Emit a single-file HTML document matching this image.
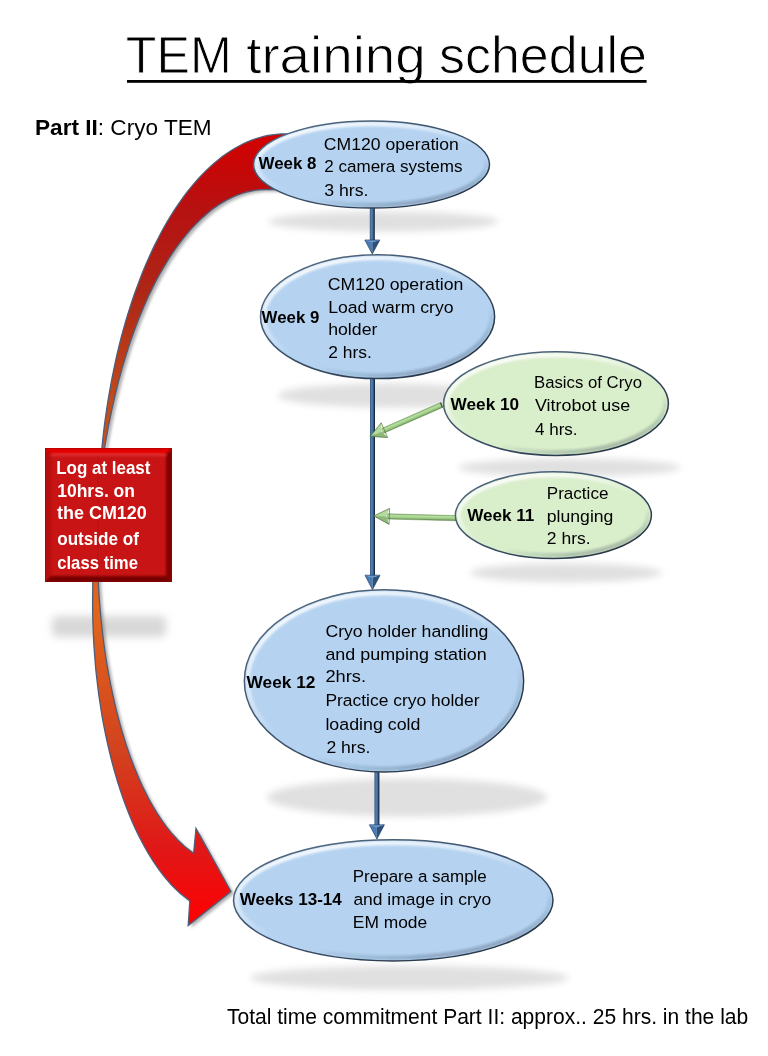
<!DOCTYPE html>
<html><head><meta charset="utf-8"><title>TEM training schedule</title>
<style>html,body{margin:0;padding:0;background:#fff;width:768px;height:1056px;overflow:hidden}
text{font-family:"Liberation Sans",sans-serif}</style></head>
<body>
<svg width="768" height="1056" viewBox="0 0 768 1056" style="display:block">
<defs>
<filter id="sh" x="-30%" y="-200%" width="160%" height="500%"><feGaussianBlur stdDeviation="3.8"/></filter>
<filter id="sh2" x="-30%" y="-100%" width="160%" height="300%"><feGaussianBlur stdDeviation="4.2"/></filter>
<filter id="b1" x="-10%" y="-10%" width="120%" height="120%"><feGaussianBlur stdDeviation="0.9"/></filter>
<filter id="b12" x="-10%" y="-10%" width="120%" height="120%"><feGaussianBlur stdDeviation="1.3"/></filter>
<filter id="ash" x="-20%" y="-5%" width="140%" height="110%"><feGaussianBlur stdDeviation="1.8"/></filter>
<filter id="csh" x="-50%" y="-20%" width="200%" height="140%"><feDropShadow dx="1" dy="1" stdDeviation="1" flood-color="#000" flood-opacity="0.25"/></filter>
<linearGradient id="bevT" x1="0.1" y1="0.05" x2="0.75" y2="1">
 <stop offset="0" stop-color="#fff" stop-opacity="0.95"/>
 <stop offset="0.3" stop-color="#fff" stop-opacity="0.55"/>
 <stop offset="0.55" stop-color="#fff" stop-opacity="0"/>
 <stop offset="0.7" stop-color="#1a2a40" stop-opacity="0.0"/>
 <stop offset="1" stop-color="#1a2a40" stop-opacity="0.3"/>
</linearGradient>
<linearGradient id="olg" x1="0" y1="0" x2="1" y2="1">
 <stop offset="0" stop-color="#587088"/>
 <stop offset="0.5" stop-color="#3a4e66"/>
 <stop offset="1" stop-color="#202c3a"/>
</linearGradient>
<linearGradient id="arr" gradientUnits="userSpaceOnUse" x1="0" y1="134" x2="0" y2="926">
 <stop offset="0" stop-color="#d40000"/>
 <stop offset="0.05" stop-color="#c40808"/>
 <stop offset="0.1" stop-color="#b51212"/>
 <stop offset="0.2" stop-color="#ae2616"/>
 <stop offset="0.34" stop-color="#c24c1a"/>
 <stop offset="0.6" stop-color="#e2661c"/>
 <stop offset="0.78" stop-color="#d2421e"/>
 <stop offset="0.9" stop-color="#e01818"/>
 <stop offset="1" stop-color="#ff0000"/>
</linearGradient>
<linearGradient id="bl" x1="0" y1="0" x2="1" y2="0">
 <stop offset="0" stop-color="#3a5880"/><stop offset="0.35" stop-color="#5882ab"/><stop offset="0.65" stop-color="#3c6690"/><stop offset="0.85" stop-color="#1a3250"/><stop offset="1" stop-color="#0e1e32"/>
</linearGradient>
<linearGradient id="ga1" gradientUnits="userSpaceOnUse" x1="411.9" y1="415.2" x2="414.0" y2="420.0"><stop offset="0" stop-color="#8fbf78"/><stop offset="0.3" stop-color="#b8e0a2"/><stop offset="0.7" stop-color="#98c682"/><stop offset="1" stop-color="#5f8a4c"/></linearGradient><linearGradient id="ga2" gradientUnits="userSpaceOnUse" x1="422.9" y1="514.7" x2="422.8" y2="519.9"><stop offset="0" stop-color="#8fbf78"/><stop offset="0.3" stop-color="#b8e0a2"/><stop offset="0.7" stop-color="#98c682"/><stop offset="1" stop-color="#5f8a4c"/></linearGradient>
<linearGradient id="blh" x1="0" y1="0" x2="1" y2="0">
 <stop offset="0" stop-color="#3f6ea5"/><stop offset="0.5" stop-color="#5a8cc6"/><stop offset="1" stop-color="#2f5584"/>
</linearGradient>
<linearGradient id="rbv" x1="0" y1="0" x2="0" y2="1">
 <stop offset="0" stop-color="#e40000"/><stop offset="1" stop-color="#d80808"/>
</linearGradient>
</defs>
<rect width="768" height="1056" fill="#fff"/>
<g font-family="Liberation Sans, sans-serif">
<!-- shadows -->
<ellipse cx="383.5" cy="221.5" rx="115" ry="10" fill="#e0e0e0" opacity="1.0" filter="url(#sh)"/><ellipse cx="389.6" cy="395.5" rx="112" ry="12" fill="#e0e0e0" opacity="1.0" filter="url(#sh)"/><ellipse cx="569.4" cy="467.5" rx="111" ry="9" fill="#e0e0e0" opacity="1.0" filter="url(#sh)"/><ellipse cx="566" cy="572.8" rx="96" ry="9.5" fill="#e0e0e0" opacity="1.0" filter="url(#sh)"/><ellipse cx="407" cy="797.5" rx="140" ry="19" fill="#e0e0e0" opacity="1.0" filter="url(#sh)"/><ellipse cx="409.5" cy="977.8" rx="159" ry="12" fill="#e0e0e0" opacity="1.0" filter="url(#sh)"/>
<rect x="52" y="616" width="114" height="21" rx="5" fill="#d8d8d8" filter="url(#sh2)"/>
<!-- curved arrow -->
<path d="M300,133.9 L284.9,133.9 L280.6,134.0 L276.4,134.3 L272.2,134.8 L267.9,135.5 L263.7,136.4 L259.5,137.6 L255.3,138.9 L251.1,140.4 L246.9,142.1 L242.7,144.0 L238.6,146.2 L234.5,148.5 L230.4,151.0 L226.4,153.7 L222.3,156.6 L218.4,159.7 L214.4,163.0 L210.5,166.4 L206.6,170.1 L202.8,173.9 L199.0,178.0 L195.2,182.2 L191.5,186.6 L187.8,191.1 L184.2,195.9 L180.7,200.8 L177.2,205.8 L173.7,211.1 L170.3,216.5 L167.0,222.1 L163.7,227.8 L160.5,233.7 L157.4,239.7 L154.3,245.9 L151.3,252.2 L148.4,258.7 L145.5,265.3 L142.7,272.0 L140.0,278.9 L137.4,285.9 L134.8,293.0 L132.3,300.3 L129.9,307.7 L127.5,315.1 L125.3,322.7 L123.1,330.4 L121.0,338.2 L119.0,346.1 L117.1,354.1 L115.3,362.2 L113.6,370.4 L111.9,378.6 L110.4,386.9 L108.9,395.3 L107.5,403.8 L106.2,412.3 L105.0,420.9 L103.9,429.6 L102.9,438.3 L102.0,447.0 C99.5,490.0 92.8,540.0 92.8,583.0 L92.8,583.0 L92.7,590.9 L92.6,598.9 L92.6,606.8 L92.7,614.8 L92.9,622.7 L93.2,630.7 L93.6,638.6 L94.0,646.6 L94.6,654.5 L95.2,662.5 L95.9,670.4 L96.8,678.4 L97.7,686.3 L98.7,694.3 L99.9,702.2 L101.1,710.2 L102.4,718.1 L103.9,726.1 L105.5,734.0 L107.2,742.0 L109.0,749.9 L110.9,757.8 L113.0,765.8 L115.2,773.7 L117.6,781.7 L120.1,789.6 L122.8,797.6 L125.7,805.5 L128.8,813.5 L132.1,821.4 L135.7,829.4 L139.5,837.3 L143.7,845.3 L148.2,853.2 L153.2,861.2 L158.6,869.1 L164.7,877.1 L171.6,885.0 L179.8,893.0 L189.8,900.9 L188.2,925.5 L231,891.5 L196,828.5 L193.6,853.2 L193.6,853.2 L184.7,846.4 L177.6,839.7 L171.4,832.9 L166.0,826.2 L161.2,819.4 L156.8,812.7 L152.7,805.9 L149.0,799.2 L145.5,792.4 L142.2,785.7 L139.2,778.9 L136.3,772.1 L133.6,765.4 L131.0,758.6 L128.6,751.9 L126.3,745.1 L124.2,738.4 L122.1,731.6 L120.2,724.9 L118.4,718.1 L116.6,711.3 L115.0,704.6 L113.5,697.8 L112.0,691.1 L110.6,684.3 L109.3,677.6 L108.1,670.8 L106.9,664.1 L105.8,657.3 L104.8,650.5 L103.9,643.8 L103.0,637.0 L102.2,630.3 L101.5,623.5 L100.8,616.8 L100.2,610.0 L99.6,603.3 L99.1,596.5 L98.7,589.8 L98.3,583.0 C98.3,540.0 102.8,490.0 104.8,447.0 L104.8,447.0 L106.1,439.5 L107.4,432.1 L108.7,424.8 L110.2,417.5 L111.7,410.3 L113.3,403.1 L114.9,396.1 L116.6,389.1 L118.3,382.2 L120.2,375.3 L122.0,368.6 L124.0,361.9 L126.0,355.4 L128.0,348.9 L130.1,342.5 L132.3,336.3 L134.5,330.1 L136.8,324.0 L139.1,318.1 L141.5,312.2 L143.9,306.5 L146.4,300.8 L148.9,295.3 L151.5,289.9 L154.1,284.7 L156.8,279.5 L159.5,274.5 L162.3,269.6 L165.1,264.8 L167.9,260.2 L170.8,255.7 L173.7,251.3 L176.7,247.1 L179.7,243.0 L182.7,239.1 L185.8,235.3 L188.9,231.6 L192.0,228.1 L195.2,224.7 L198.4,221.5 L201.6,218.4 L204.9,215.5 L208.1,212.7 L211.4,210.1 L214.7,207.6 L218.1,205.3 L221.4,203.1 L224.8,201.1 L228.2,199.3 L231.6,197.6 L235.1,196.0 L238.5,194.7 L241.9,193.5 L245.4,192.4 L248.9,191.5 L252.4,190.8 L255.8,190.2 L259.3,189.8 L262.8,189.6 L266.3,189.5 L300,189.5 Z" fill="#707070" opacity="0.55" transform="translate(3,2.2)" filter="url(#ash)"/>
<path d="M300,133.9 L284.9,133.9 L280.6,134.0 L276.4,134.3 L272.2,134.8 L267.9,135.5 L263.7,136.4 L259.5,137.6 L255.3,138.9 L251.1,140.4 L246.9,142.1 L242.7,144.0 L238.6,146.2 L234.5,148.5 L230.4,151.0 L226.4,153.7 L222.3,156.6 L218.4,159.7 L214.4,163.0 L210.5,166.4 L206.6,170.1 L202.8,173.9 L199.0,178.0 L195.2,182.2 L191.5,186.6 L187.8,191.1 L184.2,195.9 L180.7,200.8 L177.2,205.8 L173.7,211.1 L170.3,216.5 L167.0,222.1 L163.7,227.8 L160.5,233.7 L157.4,239.7 L154.3,245.9 L151.3,252.2 L148.4,258.7 L145.5,265.3 L142.7,272.0 L140.0,278.9 L137.4,285.9 L134.8,293.0 L132.3,300.3 L129.9,307.7 L127.5,315.1 L125.3,322.7 L123.1,330.4 L121.0,338.2 L119.0,346.1 L117.1,354.1 L115.3,362.2 L113.6,370.4 L111.9,378.6 L110.4,386.9 L108.9,395.3 L107.5,403.8 L106.2,412.3 L105.0,420.9 L103.9,429.6 L102.9,438.3 L102.0,447.0 C99.5,490.0 92.8,540.0 92.8,583.0 L92.8,583.0 L92.7,590.9 L92.6,598.9 L92.6,606.8 L92.7,614.8 L92.9,622.7 L93.2,630.7 L93.6,638.6 L94.0,646.6 L94.6,654.5 L95.2,662.5 L95.9,670.4 L96.8,678.4 L97.7,686.3 L98.7,694.3 L99.9,702.2 L101.1,710.2 L102.4,718.1 L103.9,726.1 L105.5,734.0 L107.2,742.0 L109.0,749.9 L110.9,757.8 L113.0,765.8 L115.2,773.7 L117.6,781.7 L120.1,789.6 L122.8,797.6 L125.7,805.5 L128.8,813.5 L132.1,821.4 L135.7,829.4 L139.5,837.3 L143.7,845.3 L148.2,853.2 L153.2,861.2 L158.6,869.1 L164.7,877.1 L171.6,885.0 L179.8,893.0 L189.8,900.9 L188.2,925.5 L231,891.5 L196,828.5 L193.6,853.2 L193.6,853.2 L184.7,846.4 L177.6,839.7 L171.4,832.9 L166.0,826.2 L161.2,819.4 L156.8,812.7 L152.7,805.9 L149.0,799.2 L145.5,792.4 L142.2,785.7 L139.2,778.9 L136.3,772.1 L133.6,765.4 L131.0,758.6 L128.6,751.9 L126.3,745.1 L124.2,738.4 L122.1,731.6 L120.2,724.9 L118.4,718.1 L116.6,711.3 L115.0,704.6 L113.5,697.8 L112.0,691.1 L110.6,684.3 L109.3,677.6 L108.1,670.8 L106.9,664.1 L105.8,657.3 L104.8,650.5 L103.9,643.8 L103.0,637.0 L102.2,630.3 L101.5,623.5 L100.8,616.8 L100.2,610.0 L99.6,603.3 L99.1,596.5 L98.7,589.8 L98.3,583.0 C98.3,540.0 102.8,490.0 104.8,447.0 L104.8,447.0 L106.1,439.5 L107.4,432.1 L108.7,424.8 L110.2,417.5 L111.7,410.3 L113.3,403.1 L114.9,396.1 L116.6,389.1 L118.3,382.2 L120.2,375.3 L122.0,368.6 L124.0,361.9 L126.0,355.4 L128.0,348.9 L130.1,342.5 L132.3,336.3 L134.5,330.1 L136.8,324.0 L139.1,318.1 L141.5,312.2 L143.9,306.5 L146.4,300.8 L148.9,295.3 L151.5,289.9 L154.1,284.7 L156.8,279.5 L159.5,274.5 L162.3,269.6 L165.1,264.8 L167.9,260.2 L170.8,255.7 L173.7,251.3 L176.7,247.1 L179.7,243.0 L182.7,239.1 L185.8,235.3 L188.9,231.6 L192.0,228.1 L195.2,224.7 L198.4,221.5 L201.6,218.4 L204.9,215.5 L208.1,212.7 L211.4,210.1 L214.7,207.6 L218.1,205.3 L221.4,203.1 L224.8,201.1 L228.2,199.3 L231.6,197.6 L235.1,196.0 L238.5,194.7 L241.9,193.5 L245.4,192.4 L248.9,191.5 L252.4,190.8 L255.8,190.2 L259.3,189.8 L262.8,189.6 L266.3,189.5 L300,189.5 Z" fill="url(#arr)" stroke="#4f5d7a" stroke-width="1.3" stroke-linejoin="miter"/>
<!-- connectors -->
<g><rect x="369.8" y="208" width="5" height="33" fill="url(#bl)"/>
<path d="M364.8,240 L372.3,242 L372.3,254 Z" fill="#4a7cb4"/>
<path d="M379.8,240 L372.3,242 L372.3,254 Z" fill="#2c5078"/>
<path d="M364.8,240 L379.8,240 L372.3,242.5 Z" fill="#6a9ad0"/>
<path d="M364.8,240 L379.8,240 L372.3,254 Z" fill="none" stroke="#22406a" stroke-width="0.7" stroke-linejoin="round"/></g>
<g><rect x="370.0" y="378" width="5" height="198.20000000000005" fill="url(#bl)"/>
<path d="M365.0,575.2 L372.5,577.2 L372.5,589.7 Z" fill="#4a7cb4"/>
<path d="M380.0,575.2 L372.5,577.2 L372.5,589.7 Z" fill="#2c5078"/>
<path d="M365.0,575.2 L380.0,575.2 L372.5,577.7 Z" fill="#6a9ad0"/>
<path d="M365.0,575.2 L380.0,575.2 L372.5,589.7 Z" fill="none" stroke="#22406a" stroke-width="0.7" stroke-linejoin="round"/></g>
<g><rect x="374.4" y="771" width="5" height="54.799999999999955" fill="url(#bl)"/>
<path d="M369.4,824.8 L376.9,826.8 L376.9,839 Z" fill="#4a7cb4"/>
<path d="M384.4,824.8 L376.9,826.8 L376.9,839 Z" fill="#2c5078"/>
<path d="M369.4,824.8 L384.4,824.8 L376.9,827.3 Z" fill="#6a9ad0"/>
<path d="M369.4,824.8 L384.4,824.8 L376.9,839 Z" fill="none" stroke="#22406a" stroke-width="0.7" stroke-linejoin="round"/></g>
<g><path d="M440.5,402.6 L381.5,428.6 L383.6,433.3 L442.5,407.4 Z" fill="url(#ga1)" stroke="#6a9258" stroke-width="0.5"/>
<path d="M381.2,422.8 L370.2,436.4 L381.6,431.4 Z" fill="#b4dc9c"/><path d="M387.6,437.5 L370.2,436.4 L381.6,431.4 Z" fill="#8db878"/>
<path d="M381.2,422.8 L370.2,436.4 L387.6,437.5 Z" fill="none" stroke="#4e6e3e" stroke-width="0.7" stroke-linejoin="round"/><line x1="440.5" y1="402.6" x2="442.5" y2="407.4" stroke="#3e5a30" stroke-width="1.4"/></g>
<g><path d="M456.5,515.6 L387.4,513.8 L387.2,519.0 L456.3,520.8 Z" fill="url(#ga2)" stroke="#6a9258" stroke-width="0.5"/>
<path d="M389.5,508.4 L373.8,516.0 L386.3,516.3 Z" fill="#b4dc9c"/><path d="M389.1,524.4 L373.8,516.0 L386.3,516.3 Z" fill="#8db878"/>
<path d="M389.5,508.4 L373.8,516.0 L389.1,524.4 Z" fill="none" stroke="#4e6e3e" stroke-width="0.7" stroke-linejoin="round"/><line x1="456.5" y1="515.6" x2="456.3" y2="520.8" stroke="#3e5a30" stroke-width="1.4"/></g>
<!-- ellipses -->
<ellipse cx="371.5" cy="164.5" rx="118" ry="43.6" fill="#b5d3f1"/>
<ellipse cx="371.5" cy="164.5" rx="114.8" ry="40.4" fill="none" stroke="url(#bevT)" stroke-width="4.5" filter="url(#b1)" clip-path="url(#c371164)"/>
<clipPath id="c371164"><ellipse cx="371.5" cy="164.5" rx="118" ry="43.6"/></clipPath>
<ellipse cx="371.5" cy="164.5" rx="118" ry="43.6" fill="none" stroke="url(#olg)" stroke-width="1.5"/><ellipse cx="377.55" cy="316.7" rx="117.05" ry="61.9" fill="#b5d3f1"/>
<ellipse cx="377.55" cy="316.7" rx="113.85" ry="58.699999999999996" fill="none" stroke="url(#bevT)" stroke-width="4.5" filter="url(#b1)" clip-path="url(#c377316)"/>
<clipPath id="c377316"><ellipse cx="377.55" cy="316.7" rx="117.05" ry="61.9"/></clipPath>
<ellipse cx="377.55" cy="316.7" rx="117.05" ry="61.9" fill="none" stroke="url(#olg)" stroke-width="1.5"/><ellipse cx="556" cy="403.6" rx="112.4" ry="51.8" fill="#d9eecb"/>
<ellipse cx="556" cy="403.6" rx="109.2" ry="48.599999999999994" fill="none" stroke="url(#bevT)" stroke-width="4.5" filter="url(#b1)" clip-path="url(#c556403)"/>
<clipPath id="c556403"><ellipse cx="556" cy="403.6" rx="112.4" ry="51.8"/></clipPath>
<ellipse cx="556" cy="403.6" rx="112.4" ry="51.8" fill="none" stroke="url(#olg)" stroke-width="1.5"/><ellipse cx="553.4" cy="515.15" rx="98" ry="43.35" fill="#d9eecb"/>
<ellipse cx="553.4" cy="515.15" rx="94.8" ry="40.15" fill="none" stroke="url(#bevT)" stroke-width="4.5" filter="url(#b1)" clip-path="url(#c553515)"/>
<clipPath id="c553515"><ellipse cx="553.4" cy="515.15" rx="98" ry="43.35"/></clipPath>
<ellipse cx="553.4" cy="515.15" rx="98" ry="43.35" fill="none" stroke="url(#olg)" stroke-width="1.5"/><ellipse cx="384" cy="680.9" rx="139.65" ry="91.1" fill="#b5d3f1"/>
<ellipse cx="384" cy="680.9" rx="136.45000000000002" ry="87.89999999999999" fill="none" stroke="url(#bevT)" stroke-width="4.5" filter="url(#b1)" clip-path="url(#c384680)"/>
<clipPath id="c384680"><ellipse cx="384" cy="680.9" rx="139.65" ry="91.1"/></clipPath>
<ellipse cx="384" cy="680.9" rx="139.65" ry="91.1" fill="none" stroke="url(#olg)" stroke-width="1.5"/><ellipse cx="393.25" cy="900.35" rx="159.75" ry="60.55" fill="#b5d3f1"/>
<ellipse cx="393.25" cy="900.35" rx="156.55" ry="57.349999999999994" fill="none" stroke="url(#bevT)" stroke-width="4.5" filter="url(#b1)" clip-path="url(#c393900)"/>
<clipPath id="c393900"><ellipse cx="393.25" cy="900.35" rx="159.75" ry="60.55"/></clipPath>
<ellipse cx="393.25" cy="900.35" rx="159.75" ry="60.55" fill="none" stroke="url(#olg)" stroke-width="1.5"/>
<!-- red box -->
<clipPath id="rbc"><rect x="45" y="448" width="127" height="134"/></clipPath>
<rect x="45" y="448" width="127" height="134" fill="#c81414"/>
<g clip-path="url(#rbc)"><g filter="url(#b12)">
<path d="M40,443 L177,443 L166,454 L51,454 Z" fill="#e40202"/>
<path d="M40,443 L51,454 L51,576 L40,587 Z" fill="#b70c0c"/>
<path d="M177,443 L177,587 L166,576 L166,454 Z" fill="#840404"/>
<path d="M40,587 L177,587 L166,576 L51,576 Z" fill="#780606"/>
<line x1="51" y1="455" x2="166" y2="455" stroke="#ee4040" stroke-width="1.5" opacity="0.8"/>
</g></g>
<rect x="45.4" y="448.4" width="126.2" height="133.2" fill="none" stroke="#8a0808" stroke-width="0.8" opacity="0.6"/>
<line x1="98" y1="456" x2="98" y2="576" stroke="#a00a0a" stroke-width="1" opacity="0.35"/>
<!-- text -->
<g opacity="0.999">
<text x="323.80" y="149.60" font-size="17.4" font-weight="normal" fill="#000" textLength="135.00" lengthAdjust="spacingAndGlyphs">CM120 operation</text>
<text x="324.20" y="172.00" font-size="17.4" font-weight="normal" fill="#000" textLength="138.40" lengthAdjust="spacingAndGlyphs">2 camera systems</text>
<text x="324.20" y="195.50" font-size="17.4" font-weight="normal" fill="#000" textLength="44.20" lengthAdjust="spacingAndGlyphs">3 hrs.</text>
<text x="258.60" y="168.70" font-size="17.2" font-weight="bold" fill="#000" textLength="57.80" lengthAdjust="spacingAndGlyphs">Week 8</text>
<text x="327.80" y="289.60" font-size="17.4" font-weight="normal" fill="#000" textLength="135.60" lengthAdjust="spacingAndGlyphs">CM120 operation</text>
<text x="328.20" y="312.60" font-size="17.4" font-weight="normal" fill="#000" textLength="125.40" lengthAdjust="spacingAndGlyphs">Load warm cryo</text>
<text x="328.20" y="335.30" font-size="17.4" font-weight="normal" fill="#000" textLength="49.20" lengthAdjust="spacingAndGlyphs">holder</text>
<text x="328.20" y="358.30" font-size="17.4" font-weight="normal" fill="#000" textLength="43.60" lengthAdjust="spacingAndGlyphs">2 hrs.</text>
<text x="261.60" y="322.50" font-size="17.2" font-weight="bold" fill="#000" textLength="57.80" lengthAdjust="spacingAndGlyphs">Week 9</text>
<text x="534.00" y="388.40" font-size="17.4" font-weight="normal" fill="#000" textLength="108.00" lengthAdjust="spacingAndGlyphs">Basics of Cryo</text>
<text x="535.00" y="411.00" font-size="17.4" font-weight="normal" fill="#000" textLength="95.20" lengthAdjust="spacingAndGlyphs">Vitrobot use</text>
<text x="535.00" y="434.50" font-size="17.4" font-weight="normal" fill="#000" textLength="42.60" lengthAdjust="spacingAndGlyphs">4 hrs.</text>
<text x="450.60" y="409.70" font-size="17.2" font-weight="bold" fill="#000" textLength="68.60" lengthAdjust="spacingAndGlyphs">Week 10</text>
<text x="546.80" y="498.70" font-size="17.4" font-weight="normal" fill="#000" textLength="61.60" lengthAdjust="spacingAndGlyphs">Practice</text>
<text x="546.80" y="521.60" font-size="17.4" font-weight="normal" fill="#000" textLength="66.60" lengthAdjust="spacingAndGlyphs">plunging</text>
<text x="546.80" y="544.10" font-size="17.4" font-weight="normal" fill="#000" textLength="43.80" lengthAdjust="spacingAndGlyphs">2 hrs.</text>
<text x="467.20" y="520.50" font-size="17.2" font-weight="bold" fill="#000" textLength="67.20" lengthAdjust="spacingAndGlyphs">Week 11</text>
<text x="325.40" y="637.00" font-size="17.4" font-weight="normal" fill="#000" textLength="163.00" lengthAdjust="spacingAndGlyphs">Cryo holder handling</text>
<text x="325.40" y="659.80" font-size="17.4" font-weight="normal" fill="#000" textLength="161.40" lengthAdjust="spacingAndGlyphs">and pumping station</text>
<text x="325.40" y="682.00" font-size="17.4" font-weight="normal" fill="#000" textLength="40.60" lengthAdjust="spacingAndGlyphs">2hrs.</text>
<text x="325.40" y="706.10" font-size="17.4" font-weight="normal" fill="#000" textLength="154.20" lengthAdjust="spacingAndGlyphs">Practice cryo holder</text>
<text x="325.40" y="729.60" font-size="17.4" font-weight="normal" fill="#000" textLength="95.00" lengthAdjust="spacingAndGlyphs">loading cold</text>
<text x="326.40" y="752.60" font-size="17.4" font-weight="normal" fill="#000" textLength="44.00" lengthAdjust="spacingAndGlyphs">2 hrs.</text>
<text x="246.60" y="687.70" font-size="17.2" font-weight="bold" fill="#000" textLength="68.80" lengthAdjust="spacingAndGlyphs">Week 12</text>
<text x="352.80" y="882.20" font-size="17.4" font-weight="normal" fill="#000" textLength="134.00" lengthAdjust="spacingAndGlyphs">Prepare a sample</text>
<text x="353.40" y="905.00" font-size="17.4" font-weight="normal" fill="#000" textLength="137.80" lengthAdjust="spacingAndGlyphs">and image in cryo</text>
<text x="352.80" y="927.90" font-size="17.4" font-weight="normal" fill="#000" textLength="74.40" lengthAdjust="spacingAndGlyphs">EM mode</text>
<text x="239.80" y="905.00" font-size="17.2" font-weight="bold" fill="#000" textLength="102.00" lengthAdjust="spacingAndGlyphs">Weeks 13-14</text>
<text x="56.20" y="473.50" font-size="17.9" font-weight="bold" fill="#fff" textLength="94.20" lengthAdjust="spacingAndGlyphs">Log at least</text>
<text x="57.20" y="497.40" font-size="17.9" font-weight="bold" fill="#fff" textLength="77.80" lengthAdjust="spacingAndGlyphs">10hrs. on</text>
<text x="57.00" y="519.30" font-size="17.9" font-weight="bold" fill="#fff" textLength="89.80" lengthAdjust="spacingAndGlyphs">the CM120</text>
<text x="57.20" y="544.60" font-size="17.9" font-weight="bold" fill="#fff" textLength="81.80" lengthAdjust="spacingAndGlyphs">outside of</text>
<text x="57.20" y="568.50" font-size="17.9" font-weight="bold" fill="#fff" textLength="80.80" lengthAdjust="spacingAndGlyphs">class time</text>
<text x="125.80" y="73.30" font-size="52" font-weight="normal" fill="#000" textLength="105.90" lengthAdjust="spacingAndGlyphs" stroke="#fff" stroke-width="0.9">TEM</text>
<text x="246.20" y="73.30" font-size="52" font-weight="normal" fill="#000" textLength="179.50" lengthAdjust="spacingAndGlyphs" stroke="#fff" stroke-width="0.9">training</text>
<text x="439.00" y="73.30" font-size="52" font-weight="normal" fill="#000" textLength="208.00" lengthAdjust="spacingAndGlyphs" stroke="#fff" stroke-width="0.9">schedule</text>
<text x="35.00" y="134.90" font-size="21.6" font-weight="normal" fill="#000" textLength="176.60" lengthAdjust="spacingAndGlyphs"><tspan font-weight="bold">Part II</tspan>: Cryo TEM</text>
<text x="227.00" y="1023.80" font-size="21.6" font-weight="normal" fill="#000" textLength="521.20" lengthAdjust="spacingAndGlyphs">Total time commitment Part II: approx.. 25 hrs. in the lab</text>
</g>
<rect x="127" y="80" width="519.6" height="2.8" fill="#000"/>
</g>
</svg>
</body></html>
